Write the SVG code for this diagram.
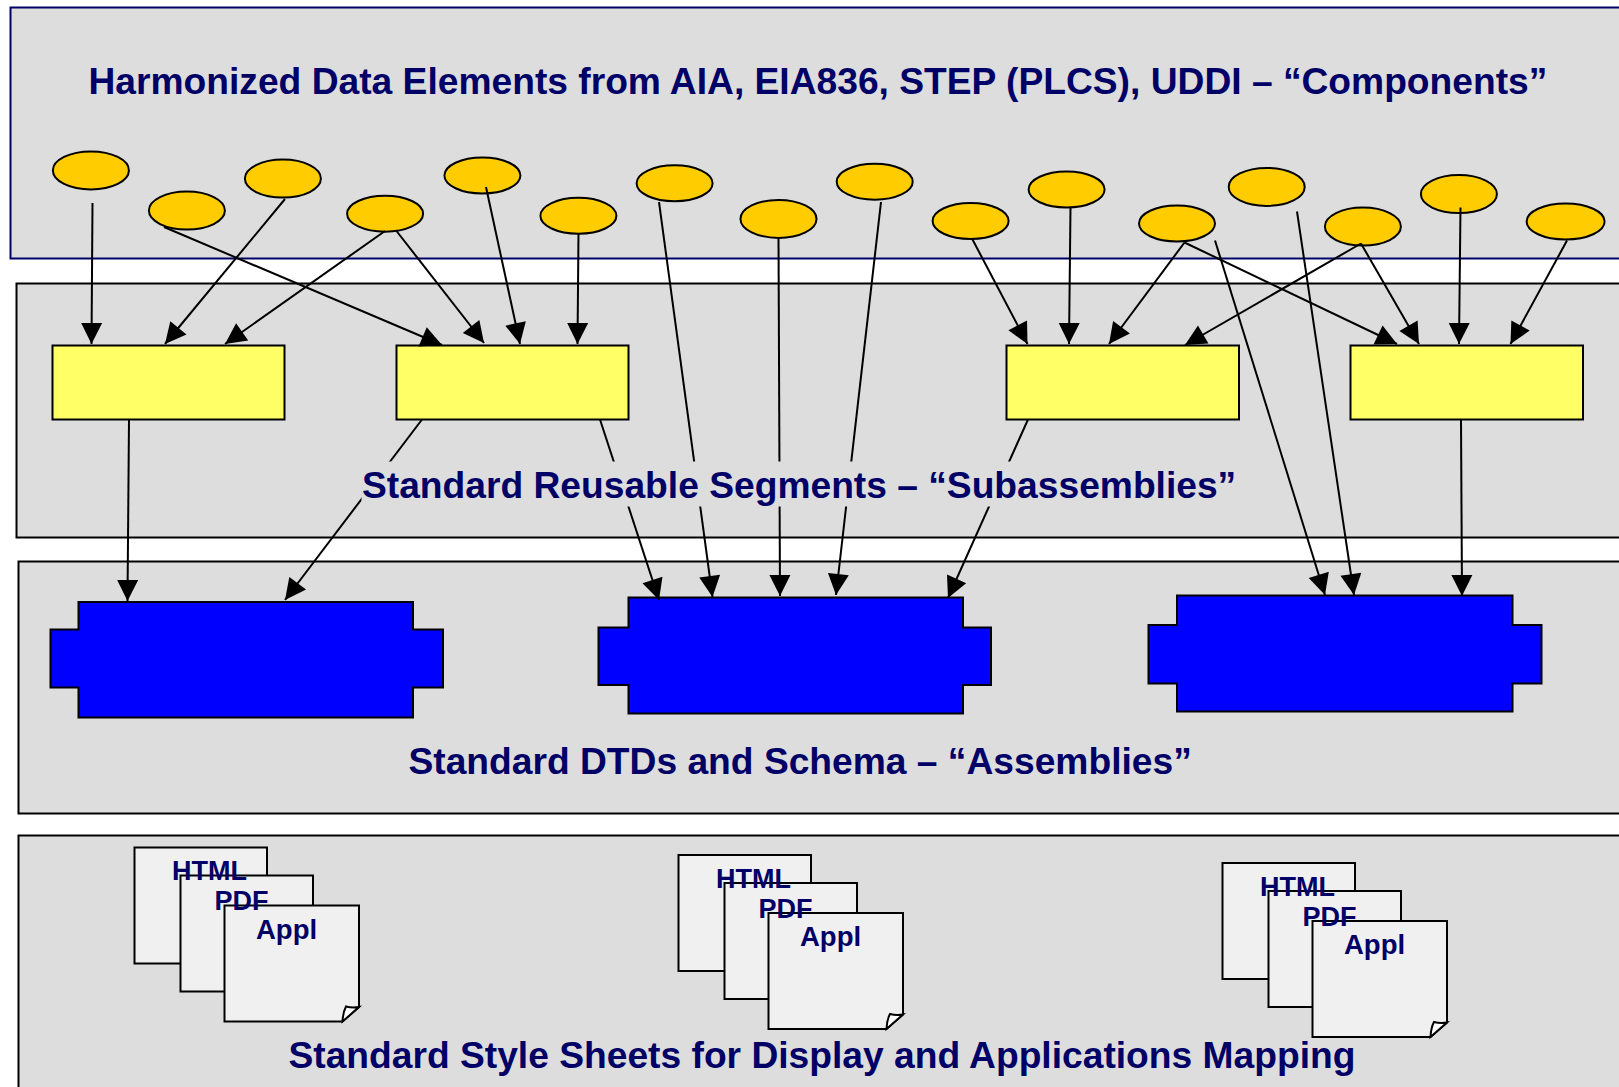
<svg xmlns="http://www.w3.org/2000/svg" width="1619" height="1087" viewBox="0 0 1619 1087">
<style>
.panel{fill:#dddddd;stroke:#000;stroke-width:2}
.el{fill:#ffcc00;stroke:#000;stroke-width:2}
.seg{fill:#ffff66;stroke:#000;stroke-width:2}
.asm{fill:#0000ff;stroke:#000;stroke-width:2}
.doc{fill:#f0f0f0;stroke:#000;stroke-width:2}
.fold{fill:#ffffff;stroke:#000;stroke-width:2}
.t{font-family:"Liberation Sans",Arial,sans-serif;font-weight:bold;fill:#000066}
.big{font-size:37.2px}
.small{font-size:27px}
#connectors line{stroke:#000;stroke-width:2;marker-end:url(#arrow)}
</style>
<defs>
<marker id="arrow" markerUnits="userSpaceOnUse" markerWidth="22" markerHeight="22" refX="21" refY="10.5" orient="auto" overflow="visible"><path d="M0,0 L21,10.5 L0,21 Z" fill="#000"/></marker>
<g id="docs">
<rect class="doc" x="134.5" y="847.5" width="132.5" height="116"/>
<rect class="doc" x="180.5" y="875.5" width="132.5" height="116"/>
<path class="doc" d="M224.5,905.5 H359 V1007 L342.5,1021.5 H224.5 Z"/>
<path class="fold" d="M342.5,1021.5 Q343,1012 346,1006.5 Q352,1008 359,1007 Z"/>
<text class="t small" x="172" y="880">HTML</text>
<text class="t small" x="214.5" y="910">PDF</text>
<text class="t small" x="256" y="938.5" style="font-size:27.5px">Appl</text>
</g>
</defs>
<g id="panel-components"><rect class="panel" style="stroke:#000066" x="10.5" y="7.5" width="1640" height="251"/></g>
<g id="panel-subassemblies"><rect class="panel" x="16.5" y="283.5" width="1640" height="254"/></g>
<g id="panel-assemblies"><rect class="panel" x="18.5" y="561.5" width="1640" height="252"/></g>
<g id="panel-stylesheets"><rect class="panel" x="18.5" y="835.5" width="1640" height="280"/></g>
<g id="title-components"><text class="t big" x="88.5" y="93.5">Harmonized Data Elements from AIA, EIA836, STEP (PLCS), UDDI – “Components”</text></g>
<g id="component-1"><ellipse class="el" cx="90.9" cy="170.4" rx="38" ry="19"/></g>
<g id="component-2"><ellipse class="el" cx="186.9" cy="210.6" rx="38" ry="19"/></g>
<g id="component-3"><ellipse class="el" cx="282.9" cy="178.6" rx="38" ry="19"/></g>
<g id="component-4"><ellipse class="el" cx="385.1" cy="213.7" rx="38" ry="18"/></g>
<g id="component-5"><ellipse class="el" cx="482.4" cy="175.5" rx="38" ry="18"/></g>
<g id="component-6"><ellipse class="el" cx="578.4" cy="215.8" rx="38" ry="18"/></g>
<g id="component-7"><ellipse class="el" cx="674.6" cy="183.3" rx="38" ry="18"/></g>
<g id="component-8"><ellipse class="el" cx="778.5" cy="218.9" rx="38" ry="19"/></g>
<g id="component-9"><ellipse class="el" cx="874.7" cy="181.7" rx="38" ry="18"/></g>
<g id="component-10"><ellipse class="el" cx="970.6" cy="221" rx="38" ry="18"/></g>
<g id="component-11"><ellipse class="el" cx="1066.6" cy="189.5" rx="38" ry="18"/></g>
<g id="component-12"><ellipse class="el" cx="1177" cy="223.5" rx="38" ry="18"/></g>
<g id="component-13"><ellipse class="el" cx="1266.7" cy="186.9" rx="38" ry="19"/></g>
<g id="component-14"><ellipse class="el" cx="1362.9" cy="226.6" rx="38" ry="19"/></g>
<g id="component-15"><ellipse class="el" cx="1458.9" cy="194.1" rx="38" ry="19"/></g>
<g id="component-16"><ellipse class="el" cx="1565.6" cy="221.5" rx="39" ry="18"/></g>
<g id="segment-1"><rect class="seg" x="52.5" y="345.5" width="232" height="74"/></g>
<g id="segment-2"><rect class="seg" x="396.5" y="345.5" width="232" height="74"/></g>
<g id="segment-3"><rect class="seg" x="1006.5" y="345.5" width="232.5" height="74"/></g>
<g id="segment-4"><rect class="seg" x="1350.5" y="345.5" width="232.5" height="74"/></g>
<g id="assembly-1"><path class="asm" d="M78.5,602 H413 V629.5 H443 V687.5 H413 V717.5 H78.5 V687.5 H50.5 V629.5 H78.5 Z"/></g>
<g id="assembly-2"><path class="asm" d="M628.5,597.5 H963 V627.5 H991 V685 H963 V713.5 H628.5 V685 H598.5 V627.5 H628.5 Z"/></g>
<g id="assembly-3"><path class="asm" d="M1177,595.5 H1512.5 V625 H1541.5 V683.5 H1512.5 V711.5 H1177 V683.5 H1148.5 V625 H1177 Z"/></g>
<g id="connectors">
<line x1="92.5" y1="203" x2="91.5" y2="344"/>
<line x1="285" y1="199" x2="165" y2="344"/>
<line x1="385" y1="231" x2="225" y2="344"/>
<line x1="164" y1="227" x2="442" y2="345"/>
<line x1="396.5" y1="231" x2="484" y2="343"/>
<line x1="486" y1="187" x2="520" y2="344"/>
<line x1="578.5" y1="233" x2="577.5" y2="344"/>
<line x1="659" y1="202" x2="712.5" y2="597"/>
<line x1="778.5" y1="238" x2="780" y2="596"/>
<line x1="881" y1="202" x2="836" y2="595"/>
<line x1="972.5" y1="239.5" x2="1027.5" y2="344"/>
<line x1="1070.5" y1="207.5" x2="1069" y2="344"/>
<line x1="1184.5" y1="242.5" x2="1109" y2="344"/>
<line x1="1184.5" y1="242.5" x2="1397" y2="344"/>
<line x1="1361" y1="243.5" x2="1185" y2="345"/>
<line x1="1361" y1="243.5" x2="1419" y2="344"/>
<line x1="1460.5" y1="207.5" x2="1459" y2="344"/>
<line x1="1567" y1="240.5" x2="1510.5" y2="344"/>
<line x1="1215" y1="240.5" x2="1325" y2="595"/>
<line x1="1297" y1="211.5" x2="1354" y2="595"/>
<line x1="129" y1="419.5" x2="127.5" y2="601"/>
<line x1="422" y1="419.5" x2="285" y2="600"/>
<line x1="600" y1="419.5" x2="659" y2="600"/>
<line x1="1028" y1="419.5" x2="948" y2="598"/>
<line x1="1461" y1="419.5" x2="1462" y2="596"/>
</g>
<g id="title-subassemblies"><rect x="361.5" y="461.5" width="875" height="45" fill="#dddddd"/><text class="t big" x="362" y="497.5">Standard Reusable Segments – “Subassemblies”</text></g>
<g id="title-assemblies"><text class="t big" x="408.5" y="773.5">Standard DTDs and Schema – “Assemblies”</text></g>
<g id="docs-1"><use href="#docs"/></g>
<g id="docs-2"><use href="#docs" x="544" y="7.5"/></g>
<g id="docs-3"><use href="#docs" x="1088" y="15.5"/></g>
<g id="title-stylesheets"><text class="t big" x="288.5" y="1067.5">Standard Style Sheets for Display and Applications Mapping</text></g>
</svg>
